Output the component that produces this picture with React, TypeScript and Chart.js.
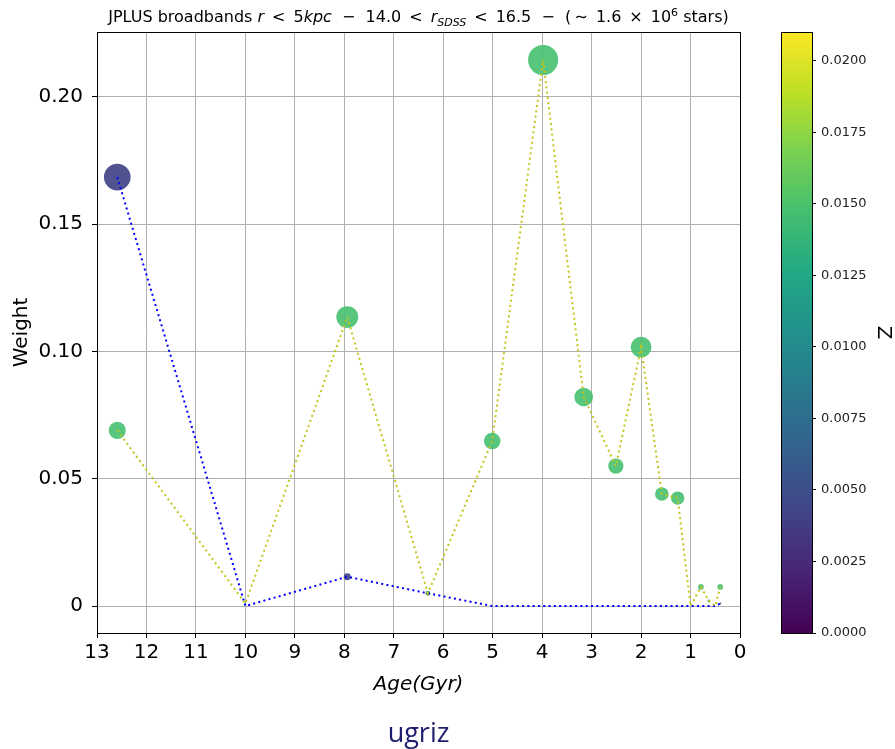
import React, { useEffect, useRef } from "react";
import { Chart, registerables } from "chart.js";

Chart.register(...registerables);

// Ages (Gyr) of the SSP grid
const ages = [12.59, 10.0, 7.94, 6.31, 5.01, 3.98, 3.16, 2.51, 2.0, 1.58, 1.26, 1.0, 0.79, 0.63, 0.5, 0.4];
// Weights for the metal-rich (yellow line) population
const weightsRich = [0.069, 0.001, 0.1135, 0.005, 0.0648, 0.2145, 0.0821, 0.055, 0.1017, 0.044, 0.0424, 0.0, 0.0075, 0.002, 0.0, 0.0075];
// Weights for the metal-poor (blue line) population
const weightsPoor = [0.1685, 0.0, 0.0115, 0.005, 0.0, 0.0, 0.0, 0.0, 0.0, 0.0, 0.0, 0.0, 0.0, 0.0, 0.0, 0.001];
// Metallicity of each population
const zRich = 0.0148;
const zPoor = 0.0042;
// Axis ticks
const xTicks = [0, 1, 2, 3, 4, 5, 6, 7, 8, 9, 10, 11, 12, 13];
const yTickStep = 0.05;
const zMin = 0;
const zMax = 0.021;
const zTickStep = 0.0025;

const viridis = ["#440154", "#482475", "#414487", "#355f8d", "#2a788e", "#21918c", "#22a884", "#44bf70", "#7ad151", "#bddf26", "#fde725"];

function hexToRgb(h: string) {
  return [parseInt(h.slice(1, 3), 16), parseInt(h.slice(3, 5), 16), parseInt(h.slice(5, 7), 16)];
}
function viridisColor(z: number, alpha: number) {
  const t = Math.max(0, Math.min(1, (z - zMin) / (zMax - zMin))) * (viridis.length - 1);
  const i = Math.min(viridis.length - 2, Math.floor(t));
  const f = t - i;
  const a = hexToRgb(viridis[i]);
  const b = hexToRgb(viridis[i + 1]);
  const c = a.map((v, k) => Math.round(v + (b[k] - v) * f));
  return `rgba(${c[0]},${c[1]},${c[2]},${alpha})`;
}

const FONT = "'DejaVu Sans', sans-serif";

export default function App() {
  const mainRef = useRef<HTMLCanvasElement>(null);
  const barRef = useRef<HTMLCanvasElement>(null);

  useEffect(() => {
    const radius = (w: number) => (w > 0 ? 32.5 * Math.sqrt(w) : 0);
    const mk = (ws: number[]) => ages.map((a, i) => ({ x: a, y: ws[i] }));

    const frame = {
      id: "frame",
      afterDraw(chart: any) {
        const { ctx, chartArea: ca } = chart;
        ctx.save();
        ctx.strokeStyle = "#000";
        ctx.lineWidth = 1;
        ctx.strokeRect(Math.round(ca.left) + 0.5, Math.round(ca.top) + 0.5, Math.round(ca.right - ca.left), Math.round(ca.bottom - ca.top));
        ctx.restore();
      },
    };

    const main = new Chart(mainRef.current!, {
      type: "scatter",
      data: {
        datasets: [
          {
            label: "rich line",
            data: mk(weightsRich),
            showLine: true,
            borderColor: "#c4c41c",
            borderWidth: 2,
            borderDash: [2, 3.3],
            pointRadius: 0,
            pointHoverRadius: 0,
            order: 0,
          },
          {
            label: "poor line",
            data: mk(weightsPoor),
            showLine: true,
            borderColor: "#0000ff",
            borderWidth: 2,
            borderDash: [2, 3.3],
            pointRadius: 0,
            pointHoverRadius: 0,
            order: 1,
          },
          {
            label: "rich",
            data: mk(weightsRich),
            showLine: false,
            pointRadius: (c: any) => radius(weightsRich[c.dataIndex]),
            pointBackgroundColor: viridisColor(zRich, 0.9),
            pointBorderWidth: 0,
            order: 2,
          },
          {
            label: "poor",
            data: mk(weightsPoor),
            showLine: false,
            pointRadius: (c: any) => radius(weightsPoor[c.dataIndex]),
            pointBackgroundColor: viridisColor(zPoor, 0.92),
            pointBorderWidth: 0,
            order: 3,
          },
        ],
      },
      options: {
        animation: false,
        responsive: false,
        maintainAspectRatio: false,
        layout: { padding: { left: 0, top: 32, right: 155, bottom: 0 } },
        plugins: { legend: { display: false }, tooltip: { enabled: false }, title: { display: false } },
        scales: {
          x: {
            type: "linear",
            reverse: true,
            min: 0,
            max: 13,
            afterBuildTicks: (s: any) => {
              s.ticks = xTicks.map((v) => ({ value: v }));
            },
            afterFit: (s: any) => {
              s.height = 116;
            },
            ticks: { font: { family: FONT, size: 20 }, color: "#000", padding: 3, autoSkip: false, maxRotation: 0 },
            grid: { color: "#b0b0b0", lineWidth: 1, tickColor: "#000", tickLength: 5 },
            border: { color: "#000" },
            title: {
              display: true,
              text: "Age(Gyr)",
              font: { family: FONT, size: 20, style: "italic" },
              color: "#000",
              padding: { top: 0, bottom: 52 },
            },
          },
          y: {
            type: "linear",
            min: -0.0106,
            max: 0.2255,
            ticks: {
              stepSize: yTickStep,
              includeBounds: false,
              font: { family: FONT, size: 20 },
              color: "#000",
              padding: 9,
              callback: (v: any) => (Math.abs(v) < 1e-9 ? "0" : Number(v).toFixed(2)),
            },
            afterFit: (s: any) => {
              s.width = 97;
            },
            grid: { color: "#b0b0b0", lineWidth: 1, tickColor: "#000", tickLength: 5 },
            border: { color: "#000" },
            title: {
              display: true,
              text: "Weight",
              font: { family: FONT, size: 20 },
              color: "#000",
              padding: { top: 10, bottom: 0 },
            },
          },
        },
      },
      plugins: [frame],
    } as any);

    const gradientPlugin = {
      id: "gradient",
      beforeDatasetsDraw(chart: any) {
        const { ctx, chartArea: ca } = chart;
        const g = ctx.createLinearGradient(0, ca.bottom, 0, ca.top);
        viridis.forEach((c, i) => g.addColorStop(i / (viridis.length - 1), c));
        ctx.save();
        ctx.fillStyle = g;
        ctx.fillRect(ca.left, ca.top, ca.right - ca.left, ca.bottom - ca.top);
        ctx.restore();
      },
    };

    const bar = new Chart(barRef.current!, {
      type: "scatter",
      data: { datasets: [] },
      options: {
        animation: false,
        responsive: false,
        maintainAspectRatio: false,
        layout: { padding: { left: 0, top: 32, right: 0, bottom: 116 } },
        plugins: { legend: { display: false }, tooltip: { enabled: false } },
        scales: {
          x: { display: false, min: 0, max: 1 },
          y: {
            position: "right",
            min: zMin,
            max: zMax,
            ticks: {
              stepSize: zTickStep,
              includeBounds: false,
              font: { family: FONT, size: 13 },
              color: "#222",
              padding: 5,
              callback: (v: any) => Number(v).toFixed(4),
            },
            afterFit: (s: any) => {
              s.width = 83;
            },
            grid: { drawOnChartArea: false, tickColor: "#000", tickLength: 4 },
            border: { display: false },
            title: { display: true, text: "Z", font: { family: FONT, size: 20 }, color: "#000", padding: 0 },
          },
        },
      },
      plugins: [gradientPlugin, frame],
    } as any);

    return () => {
      main.destroy();
      bar.destroy();
    };
  }, []);

  const sp = "\u00a0\u00a0";
  const en = "\u2002";
  return (
    <div style={{ position: "absolute", left: 0, top: 0, width: 895, height: 749, background: "#fff" }}>
      <canvas ref={mainRef} width={895} height={749} style={{ position: "absolute", left: 0, top: 0 }} />
      <canvas ref={barRef} width={114} height={749} style={{ position: "absolute", left: 781, top: 0 }} />
      <div
        style={{
          position: "absolute",
          left: 97,
          width: 643,
          top: 7,
          textAlign: "center",
          fontFamily: FONT,
          fontSize: 16,
          color: "#000",
          whiteSpace: "nowrap",
          lineHeight: "20px",
        }}
      >
        JPLUS broadbands <i>r</i>
        {en}&lt;{en}5<i>kpc</i>
        {sp}−{sp}14.0{en}&lt;{en}<i>r</i>
        <sub style={{ fontSize: 11, lineHeight: 0 }}>
          <i>SDSS</i>
        </sub>
        {en}&lt;{en}16.5{sp}−{sp}({"\u2009"}∼{en}1.6{en}×{en}10
        <sup style={{ fontSize: 11, lineHeight: 0 }}>6</sup> stars)
      </div>
      <div
        style={{
          position: "absolute",
          left: 97,
          width: 643,
          top: 714,
          textAlign: "center",
          fontFamily: "'Open Sans', sans-serif",
          fontSize: 27,
          color: "#1e1e6e",
          lineHeight: "36px",
        }}
      >
        ugriz
      </div>
    </div>
  );
}
